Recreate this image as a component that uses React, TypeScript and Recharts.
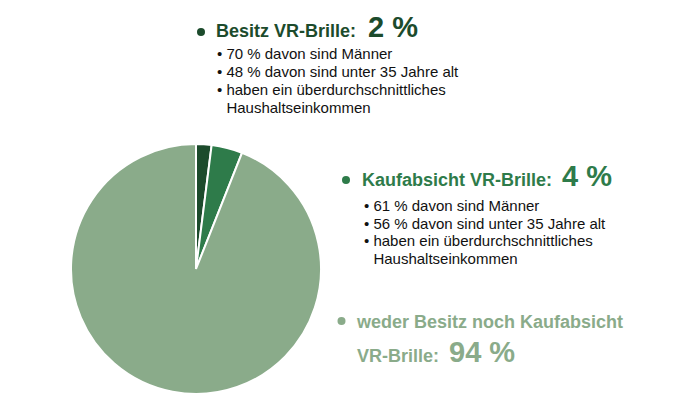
import { PieChart, Pie, Cell, Customized } from "recharts";

const categories = ["Besitz VR-Brille", "Kaufabsicht VR-Brille", "weder Besitz noch Kaufabsicht VR-Brille"];
const shares = [2, 4, 94];
const shareLabels = ["2 %", "4 %", "94 %"];
const besitzDetails = [
  "70 % davon sind Männer",
  "48 % davon sind unter 35 Jahre alt",
  "haben ein überdurchschnittliches",
  "Haushaltseinkommen",
];
const kaufDetails = [
  "61 % davon sind Männer",
  "56 % davon sind unter 35 Jahre alt",
  "haben ein überdurchschnittliches",
  "Haushaltseinkommen",
];

const COLORS = ["#1c4b2c", "#2e7b4a", "#8aab8a"];
const FONT = "Arial, 'Liberation Sans', Helvetica, sans-serif";

const data = categories.map((name, i) => ({ name, value: shares[i] }));

function Details({ x, y, gap, lines }: { x: number; y: number; gap: number; lines: string[] }) {
  return (
    <text x={x} y={y} fontSize={15} fontWeight="normal" fill="#111" fontFamily={FONT}>
      {lines.map((l, i) => (
        <tspan key={i} x={i === 3 ? x + 9.4 : x} dy={i === 0 ? 0 : gap}>
          {i === 3 ? l : "• " + l}
        </tspan>
      ))}
    </text>
  );
}

function Annotations() {
  return (
    <g fontFamily={FONT} fontWeight="bold">
      <circle cx={201} cy={32} r={4} fill={COLORS[0]} />
      <text x={216} y={37} fill={COLORS[0]} fontSize={18}>
        {categories[0] + ":"}
        <tspan dx={12} fontSize={29}>{shareLabels[0]}</tspan>
      </text>
      <Details x={217} y={59} gap={18} lines={besitzDetails} />

      <circle cx={346} cy={180} r={4} fill={COLORS[1]} />
      <text x={362} y={186} fill={COLORS[1]} fontSize={18}>
        {categories[1] + ":"}
        <tspan dx={10} fontSize={29}>{shareLabels[1]}</tspan>
      </text>
      <Details x={364} y={211} gap={17.5} lines={kaufDetails} />

      <circle cx={341.5} cy={321} r={4} fill={COLORS[2]} />
      <text x={357} y={328} fill={COLORS[2]} fontSize={18}>
        weder Besitz noch Kaufabsicht
      </text>
      <text x={357} y={362} fill={COLORS[2]} fontSize={18}>
        VR-Brille:
        <tspan dx={10} fontSize={29}>{shareLabels[2]}</tspan>
      </text>
    </g>
  );
}

export default function App() {
  return (
    <div style={{ position: "absolute", left: 0, top: 0, background: "#fff" }}>
      <PieChart width={695} height={395} margin={{ top: 0, right: 0, bottom: 0, left: 0 }}>
        <Pie
          data={data}
          dataKey="value"
          nameKey="name"
          cx={196}
          cy={269}
          outerRadius={125}
          startAngle={90}
          endAngle={-270}
          stroke="#fff"
          strokeWidth={2}
          isAnimationActive={false}
        >
          {data.map((d, i) => (
            <Cell key={d.name} fill={COLORS[i]} />
          ))}
        </Pie>
        <Customized component={Annotations} />
      </PieChart>
    </div>
  );
}
